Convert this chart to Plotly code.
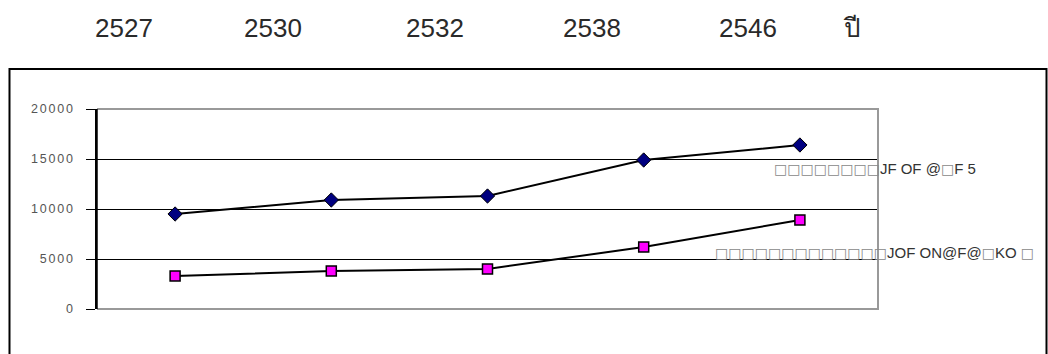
import plotly.graph_objects as go

# ---- data ----
years = ["2527", "2530", "2532", "2538", "2546"]
year_unit = "ปี"
series_a = [9500, 10900, 11300, 14900, 16400]
series_b = [3300, 3800, 4000, 6200, 8900]
label_a = "□□□□□□□□JF OF @□F 5"
label_b = "□□□□□□□□□□□□□JOF ON@F@□KO □"
y_ticks = [0, 5000, 10000, 15000, 20000]

# ---- geometry (pixels) ----
W, H = 1048, 354
L, R, T, B = 97, 878, 109, 309


def px_x(x):
    return (x - L) / (R - L)


def px_y(y):
    return (B - y) / (B - T)


fig = go.Figure()
fig.add_trace(go.Scatter(
    x=years, y=series_a, mode="lines+markers", showlegend=False,
    line=dict(color="black", width=2),
    marker=dict(symbol="diamond", size=11, color="#000080",
                line=dict(color="black", width=1)),
))
fig.add_trace(go.Scatter(
    x=years, y=series_b, mode="lines+markers", showlegend=False,
    line=dict(color="black", width=2),
    marker=dict(symbol="square", size=10, color="#FF00FF",
                line=dict(color="black", width=1.5)),
))

tick_text = ['<span style="letter-spacing:1.8px">%d</span>' % v for v in y_ticks]

fig.update_layout(
    width=W, height=H,
    margin=dict(l=L, r=W - R, t=T, b=H - B, pad=0),
    paper_bgcolor="white", plot_bgcolor="white",
    font=dict(family="Liberation Sans, Arial, sans-serif", color="#333"),
    xaxis=dict(type="category", range=[-0.5, 4.5], showticklabels=False,
               ticks="", showgrid=False, showline=False, zeroline=False),
    yaxis=dict(range=[0, 20000], tickvals=y_ticks, ticktext=tick_text,
               ticks="outside", ticklen=9, tickwidth=1, tickcolor="black",
               ticklabelstandoff=9,
               tickfont=dict(size=12.5, color="#555"),
               showgrid=True, gridcolor="black", gridwidth=1,
               showline=True, linecolor="black", linewidth=1.5,
               zeroline=False),
)

# plot-area frame: grey top, right and bottom edges
fig.add_shape(type="path", xref="paper", yref="paper", layer="above",
              path="M 0,1 L 1,1 L 1,0 L 0,0",
              line=dict(color="#999", width=2))
fig.add_shape(type="line", xref="paper", yref="paper", layer="above",
              x0=0, x1=0, y0=0, y1=1, line=dict(color="black", width=1.5))

# outer chart frame
fx0, fx1, fy0 = px_x(9.5), px_x(1046.5), px_y(69)
fy1 = px_y(H + 5)
fig.add_shape(type="path", xref="paper", yref="paper", layer="above",
              path="M %f,%f L %f,%f L %f,%f L %f,%f" % (fx0, fy1, fx0, fy0, fx1, fy0, fx1, fy1),
              line=dict(color="black", width=2))

# year row above the chart
year_centers = [124, 273, 434.5, 591.5, 748]
for yr, cx in zip(years, year_centers):
    fig.add_annotation(x=px_x(cx), y=px_y(28), xref="paper", yref="paper",
                       text=yr, showarrow=False, xanchor="center", yanchor="middle",
                       font=dict(size=26, color="#2a2a2a"))
fig.add_annotation(x=px_x(851.5), y=px_y(28), xref="paper", yref="paper",
                   text=year_unit, showarrow=False, xanchor="center", yanchor="middle",
                   font=dict(size=26, color="#2a2a2a"))


def series_label(s):
    out = []
    for ch in s:
        if ch == "□":
            out.append('<span style="font-family:DejaVu Sans;font-size:14px;'
                       'color:#888">□</span>')
        else:
            out.append(ch)
    return "".join(out)


fig.add_annotation(x=px_x(772), y=px_y(168), xref="paper", yref="paper",
                   text=series_label(label_a), showarrow=False,
                   xanchor="left", yanchor="middle",
                   font=dict(size=15, color="#333"))
fig.add_annotation(x=px_x(713), y=px_y(252), xref="paper", yref="paper",
                   text=series_label(label_b), showarrow=False,
                   xanchor="left", yanchor="middle",
                   font=dict(size=15, color="#333"))

fig.write_html("out.html")
